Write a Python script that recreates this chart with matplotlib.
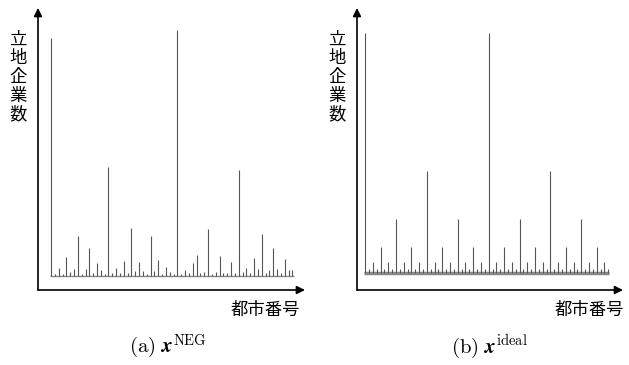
import matplotlib
matplotlib.use("Agg")
import matplotlib.pyplot as plt

plt.rcParams['font.family'] = ['Noto Sans CJK JP', 'DejaVu Sans']
plt.rcParams['mathtext.fontset'] = 'cm'

# city index and number of located firms (NEG result)
x_neg = list(range(64))
firms_neg = [238, 2, 8, 2, 19, 4, 7, 40, 2, 7, 28, 3, 13, 6, 2, 109,
             3, 8, 3, 15, 3, 48, 5, 14, 5, 2, 40, 5, 16, 2, 9, 4,
             2, 246, 2, 6, 3, 13, 21, 3, 4, 47, 2, 4, 20, 3, 3, 14,
             3, 106, 4, 8, 3, 18, 7, 42, 3, 6, 28, 7, 3, 17, 6, 6]

# ideal (hierarchical) distribution
x_ideal = list(range(64))
firms_ideal = [240, 4, 11, 4, 26, 4, 11, 4, 54, 4, 11, 4, 26, 4, 11, 4,
               102, 4, 11, 4, 26, 4, 11, 4, 54, 4, 11, 4, 26, 4, 11, 4,
               240, 4, 11, 4, 26, 4, 11, 4, 54, 4, 11, 4, 26, 4, 11, 4,
               102, 4, 11, 4, 26, 4, 11, 4, 54, 4, 11, 4, 26, 4, 11, 4]

ylabel = "立地企業数"
xlabel = "都市番号"
captions = [r"$\mathrm{(a)}\ \mathbfit{x}^{\mathrm{NEG}}$",
            r"$\mathrm{(b)}\ \mathbfit{x}^{\mathrm{ideal}}$"]

W, H = 629, 365
fig = plt.figure(figsize=(W / 100, H / 100), dpi=100)


def px_axes(left, top, right, bottom):
    return fig.add_axes([left / W, 1 - bottom / H, (right - left) / W, (bottom - top) / H])


def draw_panel(ax, xs, ys, xlim, ylim, base_lw):
    ax.set_xlim(*xlim)
    ax.set_ylim(*ylim)
    ax.hlines(0, xs[0] - 0.3, xs[-1] + 0.3, color='#888888', lw=base_lw, zorder=1)
    ax.vlines(xs, 0, ys, color='#555555', lw=0.8, zorder=2)
    for s in ax.spines.values():
        s.set_visible(False)
    ax.set_xticks([])
    ax.set_yticks([])
    ax.patch.set_alpha(0)
    ax.annotate('', xy=(1, 0), xytext=(0, 0), xycoords='axes fraction',
                arrowprops=dict(arrowstyle='-|>', color='black', lw=1.2,
                                mutation_scale=12, shrinkA=0, shrinkB=0))
    ax.annotate('', xy=(0, 1), xytext=(0, 0), xycoords='axes fraction',
                arrowprops=dict(arrowstyle='-|>', color='black', lw=1.2,
                                mutation_scale=12, shrinkA=0, shrinkB=0))


ax1 = px_axes(38, 8, 305, 290)
draw_panel(ax1, x_neg, firms_neg, (-3.4, 66.3), (-14, 268), 1.0)

ax2 = px_axes(357, 8, 623, 290)
draw_panel(ax2, x_ideal, firms_ideal, (-2.1, 66.8), (-17, 265), 2.5)

label_kw = dict(fontsize=12.5, linespacing=1.05)
fig.text(18 / W, 1 - 77 / H, "\n".join(ylabel), ha='center', va='center', **label_kw)
fig.text(337 / W, 1 - 77 / H, "\n".join(ylabel), ha='center', va='center', **label_kw)
fig.text(300 / W, 1 - 310 / H, xlabel, ha='right', va='center', fontsize=12.5)
fig.text(624 / W, 1 - 310 / H, xlabel, ha='right', va='center', fontsize=12.5)

fig.text(168 / W, 1 - 347 / H, captions[0], ha='center', va='center', fontsize=15)
fig.text(489 / W, 1 - 347 / H, captions[1], ha='center', va='center', fontsize=15)

fig.savefig("out.png", dpi=100)
